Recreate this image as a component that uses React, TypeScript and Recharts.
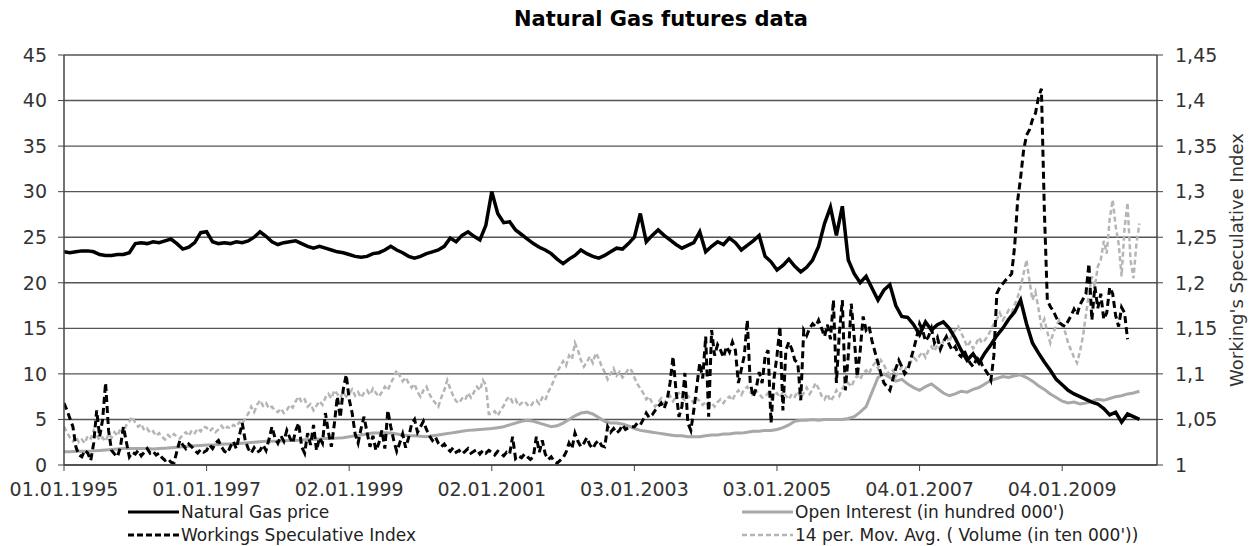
import React from 'react';
import { LineChart, Line, XAxis, YAxis, CartesianGrid } from 'recharts';

const FONT = '"DejaVu Sans", Verdana, sans-serif';

const startYear = 1995;
const xTicks = [1995, 1997, 1999, 2001, 2003, 2005, 2007, 2009];
const xTickLabels = ['01.01.1995', '01.01.1997', '02.01.1999', '02.01.2001', '03.01.2003', '03.01.2005', '04.01.2007', '04.01.2009'];
const leftTicks = [0, 5, 10, 15, 20, 25, 30, 35, 40, 45];
const rightTicks = [1, 1.05, 1.1, 1.15, 1.2, 1.25, 1.3, 1.35, 1.4, 1.45];

// Natural gas price, one value per month from Jan 1995
const gasPrice = [
  23.4, 23.3, 23.4, 23.5, 23.5, 23.4, 23.1, 23.0, 23.0, 23.1, 23.1, 23.3,
  24.3, 24.4, 24.3, 24.5, 24.4, 24.6, 24.8, 24.3, 23.7, 23.9, 24.4, 25.5,
  25.6, 24.5, 24.3, 24.4, 24.3, 24.5, 24.4, 24.6, 25.0, 25.6, 25.1, 24.5,
  24.2, 24.4, 24.5, 24.6, 24.3, 24.0, 23.8, 24.0, 23.8, 23.6, 23.4, 23.3,
  23.1, 22.9, 22.8, 22.9, 23.2, 23.3, 23.6, 24.0, 23.6, 23.3, 22.9, 22.7,
  22.9, 23.2, 23.4, 23.6, 24.0, 24.9, 24.5, 25.2, 25.6, 25.1, 24.7, 26.3,
  30.0, 27.6, 26.6, 26.7, 25.8, 25.3, 24.8, 24.3, 23.9, 23.6, 23.2, 22.6,
  22.1, 22.6, 23.0, 23.6, 23.2, 22.9, 22.7, 23.0, 23.4, 23.8, 23.7, 24.3,
  25.0, 27.6, 24.5, 25.2, 25.8, 25.2, 24.7, 24.2, 23.8, 24.1, 24.4, 25.6,
  23.4, 24.0, 24.5, 24.2, 24.9, 24.4, 23.6, 24.1, 24.6, 25.2, 22.9, 22.3,
  21.4, 21.9, 22.6, 21.8, 21.2, 21.7, 22.5, 24.0, 26.5, 28.3, 25.2, 28.4,
  22.5, 21.0, 20.0, 20.7, 19.4, 18.1, 19.2, 19.8, 17.5, 16.3, 16.2, 15.4,
  14.3, 15.7, 14.8, 15.4, 15.7, 15.0, 13.9, 12.6, 11.5, 12.2, 11.2, 12.3,
  13.2, 14.2, 15.0, 16.0, 16.8, 18.1, 15.5, 13.4, 12.3, 11.3, 10.4, 9.4,
  8.8, 8.2, 7.8, 7.5, 7.2, 6.9, 6.7, 6.2, 5.5, 5.8, 4.7, 5.6,
  5.3, 5.0,
];

// Open interest (in hundred 000'), monthly from Jan 1995
const openInterest = [
  1.45, 1.45, 1.5, 1.5, 1.5, 1.55, 1.6, 1.65, 1.7, 1.75, 1.8, 1.8,
  1.8, 1.8, 1.8, 1.75, 1.8, 1.85, 1.9, 1.95, 2.0, 2.05, 2.1, 2.15,
  2.2, 2.2, 2.25, 2.3, 2.3, 2.35, 2.4, 2.45, 2.5, 2.55, 2.6, 2.6,
  2.6, 2.65, 2.7, 2.7, 2.75, 2.8, 2.8, 2.85, 2.9, 2.9, 2.95, 3.0,
  3.1, 3.2, 3.3, 3.4, 3.5, 3.5, 3.55, 3.5, 3.4, 3.3, 3.2, 3.2,
  3.15, 3.1, 3.2, 3.3, 3.4, 3.5, 3.6, 3.7, 3.8, 3.85, 3.9, 3.95,
  4.0, 4.1, 4.2, 4.4, 4.6, 4.8, 4.9, 4.8, 4.6, 4.4, 4.2, 4.3,
  4.6, 5.0, 5.4, 5.7, 5.8, 5.6, 5.2, 4.8, 4.6, 4.6, 4.5, 4.3,
  4.0, 3.8, 3.7, 3.6, 3.5, 3.4, 3.3, 3.2, 3.2, 3.1, 3.1, 3.1,
  3.2, 3.3, 3.3, 3.4, 3.4, 3.5, 3.5, 3.6, 3.7, 3.7, 3.8, 3.8,
  3.9, 4.1, 4.4, 4.8, 4.9, 4.9, 5.0, 4.9, 5.0, 5.0, 5.0, 5.0,
  5.1, 5.3, 5.8, 6.4, 8.0, 9.6, 10.0, 9.6, 9.2, 9.4, 8.9, 8.5,
  8.2, 8.6, 8.9, 8.4, 7.9, 7.6, 7.8, 8.1, 8.0, 8.3, 8.5, 8.9,
  9.3, 9.5, 9.7, 9.6, 9.8, 9.9, 9.6, 9.2, 8.7, 8.3, 7.8, 7.4,
  7.0, 6.8, 6.9, 6.7, 6.8, 7.0, 7.2, 7.1, 7.3, 7.5, 7.6, 7.8,
  7.9, 8.1,
];

// 14 period moving average of volume (in ten 000'), twice a month from Jan 1995
const volumeAvg = [
  4.2, 3.6, 3.0, 2.6, 3.1, 2.5, 2.8, 2.4, 3.2, 2.9, 3.8, 3.3, 2.7, 3.0, 2.6, 3.4, 3.0, 3.6, 3.2, 4.0, 3.5, 4.4, 4.8, 5.3,
  4.6, 4.2, 4.5, 3.8, 4.0, 3.5, 3.7, 3.2, 3.5, 3.1, 2.8, 3.3, 3.0, 3.4, 3.1, 2.9, 3.3, 3.6, 3.2, 3.8, 3.5, 4.0, 3.7, 4.2,
  4.1, 3.7, 4.0, 3.6, 3.9, 4.3, 3.9, 4.2, 4.0, 4.4, 4.2, 4.7, 4.5, 5.2, 5.6, 6.4, 5.8, 6.6, 7.1, 6.5, 6.8, 6.2, 6.4, 6.0,
  5.8, 6.2, 5.7, 6.0, 6.6, 6.3, 7.0, 7.5, 6.9, 7.2, 6.4, 6.7, 6.0, 6.5, 7.0, 6.6, 7.4, 7.8, 7.3, 8.2, 7.8, 7.4, 8.0, 7.5,
  7.8, 8.3, 7.6, 8.0, 7.4, 7.9, 8.2, 7.7, 8.4, 7.9, 7.5, 8.0, 8.6, 8.2, 9.0, 9.6, 10.4, 9.8, 9.2, 9.6, 9.0, 8.5, 8.9, 8.0,
  7.5, 8.2, 8.6, 7.8, 7.2, 6.8, 6.4, 7.4, 8.2, 9.3, 8.4, 7.6, 7.0, 6.8, 7.3, 7.1, 7.9, 7.4, 8.0, 8.6, 8.2, 9.3, 8.8, 5.6,
  5.6, 5.9, 5.4, 6.0, 6.5, 7.2, 7.5, 6.9, 7.2, 6.5, 6.8, 7.0, 6.6, 6.4, 6.9, 7.1, 6.7, 7.4, 7.1, 8.0, 8.6, 9.4, 10.2, 10.8,
  11.4, 10.9, 12.0, 11.6, 13.4, 12.6, 11.5, 10.8, 11.3, 11.9, 11.2, 12.3, 11.7, 10.8, 10.2, 9.4, 10.0, 10.6, 9.8, 10.2, 9.6, 10.0, 10.6, 10.4,
  9.6, 8.9, 8.4, 7.9, 7.2, 7.5, 6.8, 6.4, 6.9, 7.3, 6.8, 7.2, 7.6, 7.0, 7.5, 7.9, 7.4, 7.1, 7.6, 7.2, 6.8, 7.3, 7.0, 6.6,
  6.9, 6.5, 6.8, 6.4, 6.9, 7.2, 6.8, 7.3, 7.5, 7.1, 7.8, 8.2, 7.7, 8.3, 8.6, 8.0, 7.6, 8.1, 7.8, 7.4, 7.5, 7.9, 7.3, 7.7,
  7.9, 7.4, 8.0, 7.6, 7.2, 7.8, 7.5, 8.1, 7.4, 7.9, 8.5, 7.8, 8.3, 9.0, 8.4, 7.6, 7.2, 7.8, 7.0, 7.5, 8.2, 7.6, 8.4, 8.9,
  9.0, 8.6, 9.3, 9.8, 9.4, 10.1, 10.4, 10.0, 10.8, 11.2, 10.6, 11.5, 11.0, 10.3, 9.9, 10.4, 9.7, 10.2, 10.8, 10.4, 11.0, 11.3, 11.8, 11.5,
  12.0, 12.4, 11.8, 12.6, 13.0, 12.5, 13.2, 12.8, 13.6, 14.1, 13.5, 14.4, 14.8, 15.2, 14.5, 13.8, 13.0, 13.5, 12.8, 13.3, 14.0, 13.4, 13.7, 14.2,
  14.8, 15.5, 16.0, 16.7, 15.9, 16.4, 17.0, 16.7, 17.6, 18.4, 19.5, 21.0, 22.5, 20.2, 18.1, 19.0, 17.2, 15.2, 16.0, 14.6, 13.4, 14.5, 15.3, 15.9,
  15.3, 14.6, 13.4, 12.6, 11.8, 11.2, 12.5, 14.1, 16.5, 18.8, 20.7, 19.6, 21.8, 22.5, 24.6, 23.2, 27.0, 29.1, 26.2, 24.3, 20.7, 26.0, 28.8, 22.5,
  20.5, 24.3, 26.5,
];

// Working's speculative index, twice a month from Jan 1995
const workingsIndex = [
  1.068, 1.060, 1.051, 1.042, 1.020, 1.011, 1.009, 1.016, 1.013, 1.005, 1.024, 1.060, 1.031, 1.050, 1.090, 1.038, 1.016, 1.012, 1.009, 1.020, 1.042, 1.025, 1.009, 1.014,
  1.012, 1.016, 1.010, 1.014, 1.018, 1.013, 1.015, 1.011, 1.013, 1.008, 1.005, 1.007, 1.003, 1.002, 1.015, 1.027, 1.022, 1.018, 1.023, 1.020, 1.016, 1.013, 1.017, 1.014,
  1.016, 1.022, 1.018, 1.024, 1.027, 1.020, 1.015, 1.013, 1.020, 1.026, 1.018, 1.032, 1.046, 1.027, 1.018, 1.013, 1.019, 1.014, 1.016, 1.022, 1.016, 1.028, 1.042, 1.030,
  1.024, 1.032, 1.026, 1.038, 1.030, 1.024, 1.038, 1.046, 1.020, 1.013, 1.035, 1.022, 1.044, 1.016, 1.030, 1.024, 1.057, 1.036, 1.020, 1.045, 1.075, 1.052, 1.083, 1.099,
  1.072, 1.057, 1.034, 1.024, 1.040, 1.053, 1.036, 1.020, 1.032, 1.016, 1.024, 1.038, 1.018, 1.060, 1.042, 1.027, 1.015, 1.024, 1.034, 1.019, 1.030, 1.045, 1.050, 1.036,
  1.042, 1.048, 1.039, 1.032, 1.027, 1.031, 1.024, 1.020, 1.023, 1.018, 1.015, 1.019, 1.014, 1.016, 1.012, 1.015, 1.018, 1.013, 1.015, 1.017, 1.012, 1.016, 1.013, 1.016,
  1.014, 1.011, 1.015, 1.013, 1.010, 1.014, 1.012, 1.031, 1.007, 1.010, 1.008, 1.012, 1.009, 1.006, 1.009, 1.031, 1.014, 1.027, 1.012, 1.006, 1.009, 1.004, 1.002, 1.005,
  1.008, 1.014, 1.024, 1.018, 1.035, 1.026, 1.020, 1.024, 1.030, 1.022, 1.018, 1.024, 1.027, 1.021, 1.020, 1.042, 1.036, 1.040, 1.035, 1.038, 1.044, 1.039, 1.041, 1.042,
  1.042, 1.046, 1.044, 1.050, 1.057, 1.052, 1.055, 1.060, 1.064, 1.068, 1.062, 1.071, 1.090, 1.119, 1.082, 1.053, 1.064, 1.101, 1.046, 1.038, 1.060, 1.086, 1.112, 1.095,
  1.141, 1.053, 1.148, 1.120, 1.132, 1.126, 1.118, 1.130, 1.124, 1.135, 1.126, 1.090, 1.105, 1.120, 1.159, 1.090, 1.075, 1.084, 1.102, 1.090, 1.119, 1.126, 1.046, 1.095,
  1.120, 1.152, 1.060, 1.126, 1.135, 1.127, 1.115, 1.112, 1.071, 1.148, 1.142, 1.150, 1.155, 1.152, 1.159, 1.150, 1.141, 1.154, 1.138, 1.181, 1.090, 1.145, 1.181, 1.082,
  1.120, 1.177, 1.140, 1.097, 1.125, 1.163, 1.148, 1.152, 1.136, 1.124, 1.112, 1.100, 1.090, 1.086, 1.082, 1.094, 1.106, 1.115, 1.108, 1.100, 1.104, 1.116, 1.127, 1.140,
  1.155, 1.148, 1.136, 1.141, 1.150, 1.134, 1.140, 1.127, 1.135, 1.141, 1.132, 1.126, 1.130, 1.122, 1.119, 1.126, 1.118, 1.112, 1.108, 1.115, 1.119, 1.110, 1.105, 1.100,
  1.093, 1.120, 1.188, 1.195, 1.199, 1.203, 1.206, 1.210, 1.240, 1.290, 1.315, 1.345, 1.362, 1.368, 1.379, 1.386, 1.403, 1.413, 1.280, 1.181, 1.174, 1.169, 1.162, 1.156,
  1.154, 1.152, 1.158, 1.164, 1.171, 1.165, 1.176, 1.182, 1.188, 1.221, 1.159, 1.196, 1.172, 1.188, 1.160, 1.167, 1.195, 1.188, 1.164, 1.152, 1.173, 1.167, 1.138,
];

const byMonth = (vals: number[]) => vals.map((v, i) => ({ t: startYear + i / 12, v }));
const byHalfMonth = (vals: number[]) => vals.map((v, i) => ({ t: startYear + i / 24, v }));

const priceData = byMonth(gasPrice);
const oiData = byMonth(openInterest);
const volumeData = byHalfMonth(volumeAvg);
const wsiData = byHalfMonth(workingsIndex);

const tickStyle = { fill: '#333', fontSize: 19, fontFamily: FONT };

const RightTitle = () => (
  <text
    x={1236}
    y={260}
    transform="rotate(-90 1236 260)"
    textAnchor="middle"
    dominantBaseline="central"
    fontSize={18}
    fill="#333"
    fontFamily={FONT}
  >
    Working's Speculative Index
  </text>
);

const LegendEntry = ({ left, top, label, color, width, dash }: any) => (
  <div
    style={{
      position: 'absolute',
      left,
      top: top - 11,
      height: 22,
      display: 'flex',
      alignItems: 'center',
      fontSize: 17,
      color: '#222',
      whiteSpace: 'nowrap',
    }}
  >
    <svg width={51} height={8}>
      <line x1={0} y1={4} x2={51} y2={4} stroke={color} strokeWidth={width} strokeDasharray={dash} />
    </svg>
    <span style={{ marginLeft: 2 }}>{label}</span>
  </div>
);

export default function App() {
  return (
    <div style={{ position: 'absolute', left: 0, top: 0, width: 1250, height: 546, background: '#fff', fontFamily: FONT }}>
      <div
        style={{
          position: 'absolute',
          left: 461,
          top: 7,
          width: 400,
          textAlign: 'center',
          fontSize: 21,
          fontWeight: 'bold',
          color: '#000',
        }}
      >
        Natural Gas futures data
      </div>

      <LineChart width={1250} height={546} margin={{ top: 55, right: 0, bottom: 0, left: 0 }}>
        <CartesianGrid yAxisId="left" vertical={false} stroke="#555" strokeWidth={1.4} />
        <XAxis
          type="number"
          dataKey="t"
          domain={[1995, 2010.33]}
          allowDataOverflow
          ticks={xTicks}
          tickFormatter={(v: number) => xTickLabels[xTicks.indexOf(v)]}
          height={81}
          tickSize={6}
          tickMargin={12}
          tick={tickStyle}
          stroke="#444"
          axisLine={{ stroke: '#444', strokeWidth: 1.5 }}
        />
        <YAxis
          yAxisId="left"
          domain={[0, 45]}
          ticks={leftTicks}
          width={64}
          tickSize={6}
          tickMargin={11}
          tick={tickStyle}
          stroke="#444"
          axisLine={{ stroke: '#444', strokeWidth: 1.5 }}
        />
        <YAxis
          yAxisId="right"
          orientation="right"
          domain={[1, 1.45]}
          ticks={rightTicks}
          tickFormatter={(v: number) => String(v).replace('.', ',')}
          width={93}
          tickSize={6}
          tickMargin={12}
          tick={tickStyle}
          stroke="#444"
          axisLine={{ stroke: '#444', strokeWidth: 1.5 }}
          label={RightTitle}
        />
        <Line
          yAxisId="left"
          data={oiData}
          dataKey="v"
          stroke="#a8a8a8"
          strokeWidth={3}
          dot={false}
          isAnimationActive={false}
        />
        <Line
          yAxisId="left"
          data={volumeData}
          dataKey="v"
          stroke="#b5b5b5"
          strokeWidth={2.5}
          strokeDasharray="5 3"
          dot={false}
          isAnimationActive={false}
        />
        <Line
          yAxisId="right"
          data={wsiData}
          dataKey="v"
          stroke="#000"
          strokeWidth={3}
          strokeDasharray="7 4"
          dot={false}
          isAnimationActive={false}
        />
        <Line
          yAxisId="left"
          data={priceData}
          dataKey="v"
          stroke="#000"
          strokeWidth={3.5}
          dot={false}
          isAnimationActive={false}
        />
      </LineChart>

      <LegendEntry left={128} top={512} label="Natural Gas price" color="#000" width={3} />
      <LegendEntry left={128} top={535} label="Workings Speculative Index" color="#000" width={3} dash="6 3" />
      <LegendEntry left={742} top={512} label="Open Interest (in hundred 000')" color="#a8a8a8" width={3} />
      <LegendEntry left={742} top={535} label="14 per. Mov. Avg. ( Volume (in ten 000'))" color="#b5b5b5" width={2.5} dash="5 3" />
    </div>
  );
}
